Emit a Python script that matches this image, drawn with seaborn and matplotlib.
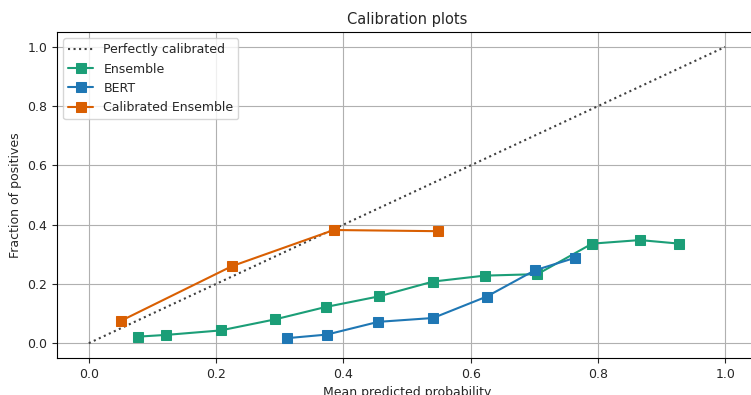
import numpy as np
import pandas as pd
import matplotlib
matplotlib.use("Agg")
import matplotlib.pyplot as plt
import seaborn as sns

# calibration curves
ens_prob = [0.077, 0.122, 0.207, 0.292, 0.372, 0.456, 0.541, 0.622, 0.705, 0.791, 0.866, 0.928]
ens_frac = [0.022, 0.028, 0.043, 0.080, 0.122, 0.158, 0.208, 0.228, 0.233, 0.336, 0.348, 0.336]

bert_prob = [0.312, 0.374, 0.455, 0.541, 0.625, 0.701, 0.764]
bert_frac = [0.017, 0.029, 0.072, 0.085, 0.157, 0.246, 0.288]

cal_prob = [0.051, 0.225, 0.385, 0.549]
cal_frac = [0.076, 0.260, 0.382, 0.378]

perfect = [0.0, 1.0]

sns.set_style("ticks", {"axes.grid": True, "grid.color": "#b0b0b0", "axes.edgecolor": "black"})
plt.rcParams["font.family"] = ["DejaVu Sans"]
plt.rcParams["font.size"] = 9
plt.rcParams["axes.titlesize"] = 10.5
plt.rcParams["axes.labelsize"] = 9
plt.rcParams["xtick.labelsize"] = 9
plt.rcParams["ytick.labelsize"] = 9
plt.rcParams["legend.fontsize"] = 9

fig = plt.figure(figsize=(7.51, 3.95), dpi=100)
ax = fig.add_axes([0.0759, 0.0937, 0.932, 0.825])

ax.plot(perfect, perfect, "k:", color="#404040", label="Perfectly calibrated")

series = [
    ("Ensemble", ens_prob, ens_frac, "#1b9e77"),
    ("BERT", bert_prob, bert_frac, "#1f77b4"),
    ("Calibrated Ensemble", cal_prob, cal_frac, "#d95f02"),
]
for name, xs, ys, col in series:
    df = pd.DataFrame({"prob": xs, "frac": ys})
    sns.lineplot(data=df, x="prob", y="frac", marker="s", color=col,
                 markersize=6.5, markeredgecolor=col, linewidth=1.5,
                 label=name, ax=ax)

ax.set_xlim(-0.05, 1.05)
ax.set_ylim(-0.05, 1.05)
ax.set_xticks(np.arange(0, 1.01, 0.2))
ax.set_yticks(np.arange(0, 1.01, 0.2))
ax.set_xlabel("Mean predicted probability")
ax.set_ylabel("Fraction of positives")
ax.set_title("Calibration plots")
ax.legend(loc="upper left")

fig.savefig("out.png", dpi=100)
